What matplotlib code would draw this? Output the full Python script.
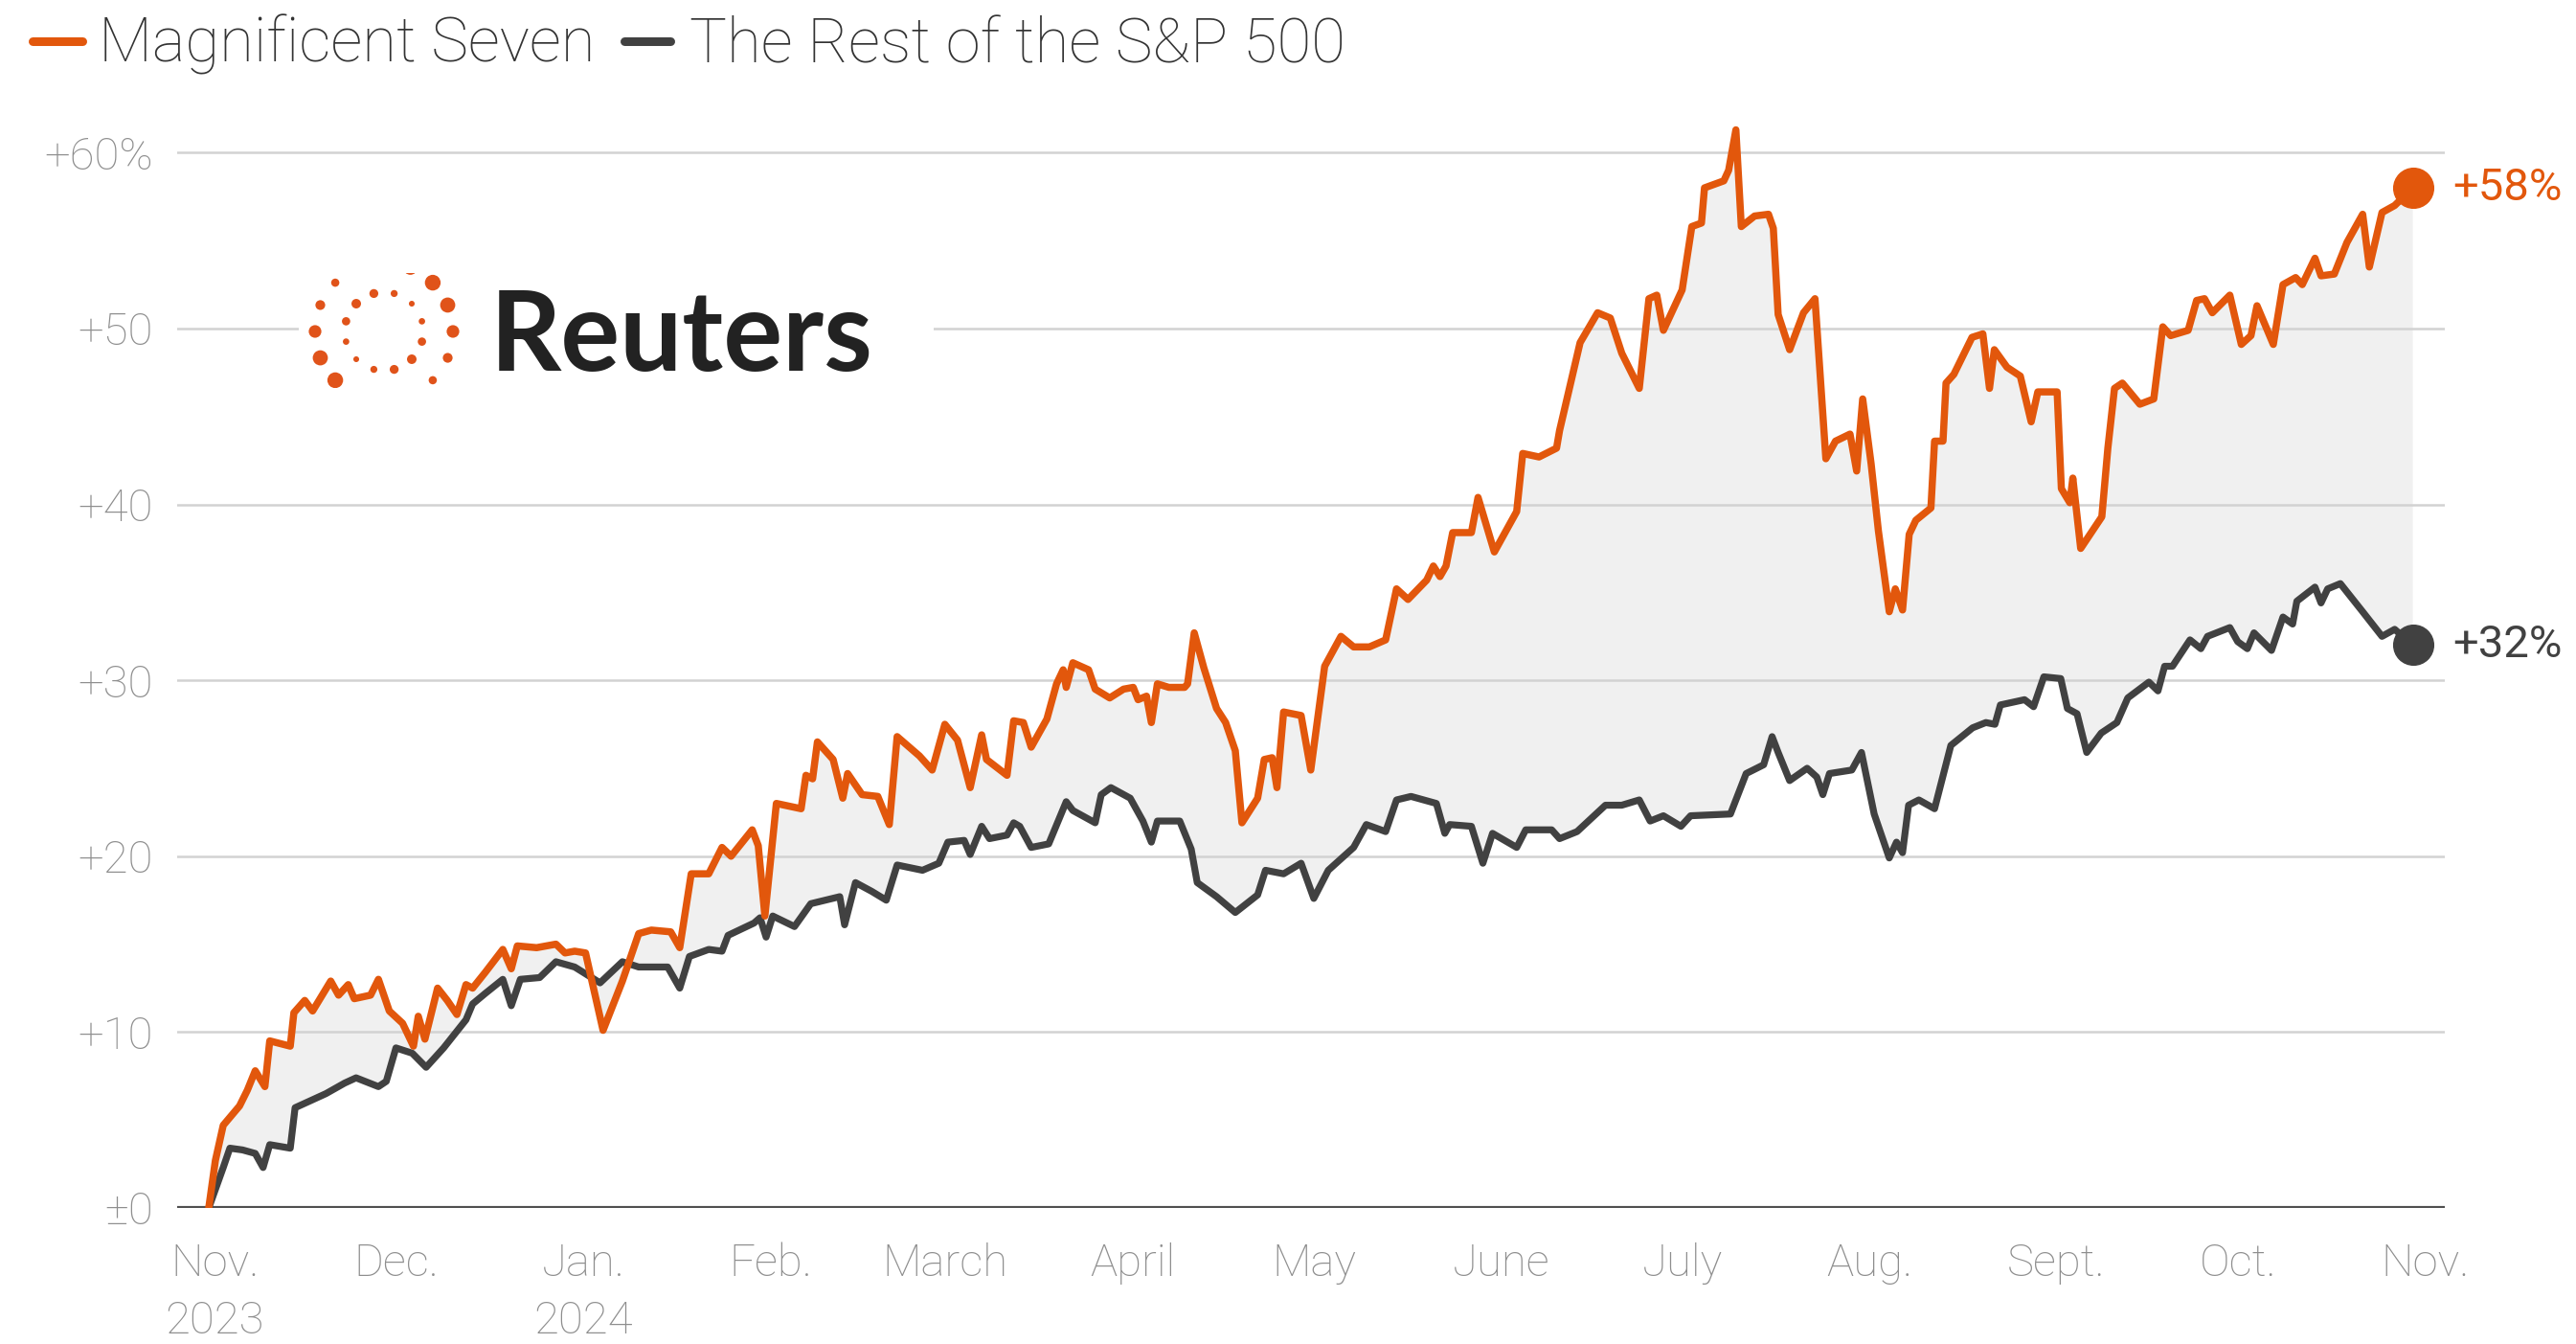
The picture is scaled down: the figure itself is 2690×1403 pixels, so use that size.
import matplotlib
matplotlib.use("Agg")
import matplotlib.pyplot as plt
import matplotlib.dates as mdates
from matplotlib.lines import Line2D
import numpy as np
import pandas as pd

plt.rcParams['font.family'] = ['Roboto', 'DejaVu Sans']
plt.rcParams['font.weight'] = 'light'

# ---------------- data ----------------
START = pd.Timestamp('2023-10-31')   # day 0 of the index (±0)

series_names = ['Magnificent Seven', 'The Rest of the S&P 500']

# days after START
mag7_days = [0, 1.1, 2.4, 5.1, 6.4, 7.7, 9.3, 10.1, 13.5, 14.1,
             15.9, 17.2, 20.2, 21.5, 23.1, 24.1, 26.8, 28.1, 29.9, 32.1,
             33.9, 34.7, 35.8, 37.9, 39.5, 41.1, 42.6, 43.7, 45.8, 48.7,
             50.1, 51.1, 54.3, 57.5, 59.0, 60.6, 62.4, 65.3, 68.5, 71.2,
             73.3, 76.5, 78.0, 79.9, 82.8, 85.0, 86.5, 90.0, 91.0, 92.1,
             94.0, 98.1, 98.9, 100.0, 100.8, 103.4, 105.0, 105.8, 108.2, 110.8,
             112.7, 114.0, 117.7, 119.8, 121.9, 124.0, 126.1, 128.0, 128.8, 132.2,
             133.3, 134.9, 136.2, 138.8, 140.4, 141.5, 142.0, 143.1, 145.7, 146.8,
             149.2, 151.5, 153.1, 153.9, 155.3, 156.1, 157.1, 159.0, 161.6, 162.1,
             163.2, 164.8, 166.9, 168.4, 170.0, 171.1, 173.7, 174.8, 176.1, 176.9,
             178.0, 180.9, 182.5, 184.8, 187.5, 189.6, 192.2, 194.9, 196.7, 198.6,
             201.7, 202.8, 203.9, 204.9, 206.0, 209.1, 210.2, 212.9, 216.6, 217.6,
             220.3, 223.2, 223.7, 227.1, 230.0, 232.1, 234.0, 236.9, 238.5, 239.8,
             240.9, 244.0, 245.6, 247.2, 247.7, 250.9, 251.7, 252.9, 253.8, 256.0,
             258.3, 259.1, 259.9, 261.8, 264.1, 266.0, 267.8, 269.4, 271.8, 272.9,
             273.9, 275.3, 276.5, 278.3, 279.3, 280.5, 281.6, 282.7, 285.2, 285.8,
             287.2, 287.7, 289.0, 292.0, 293.8, 294.9, 295.7, 297.8, 300.0, 301.8,
             302.9, 306.1, 306.8, 308.2, 308.7, 310.0, 313.5, 314.5, 315.6, 316.9,
             319.8, 322.1, 323.6, 324.9, 327.8, 329.2, 330.5, 331.8, 334.7, 336.6,
             338.2, 339.2, 341.9, 343.5, 345.6, 346.7, 348.8, 349.8, 352.0, 354.1,
             356.7, 357.8, 359.9, 362.0, 365.0]
mag7_vals = [0.0, 2.7, 4.7, 5.8, 6.7, 7.8, 6.9, 9.5, 9.2, 11.1,
             11.8, 11.2, 12.9, 12.1, 12.7, 11.9, 12.1, 13.0, 11.2, 10.5,
             9.2, 10.9, 9.6, 12.5, 11.8, 11.0, 12.7, 12.5, 13.4, 14.7,
             13.6, 14.9, 14.8, 15.0, 14.5, 14.6, 14.5, 10.1, 12.9, 15.6,
             15.8, 15.7, 14.8, 19.0, 19.0, 20.5, 20.0, 21.5, 20.6, 16.6,
             23.0, 22.7, 24.6, 24.4, 26.5, 25.5, 23.3, 24.7, 23.5, 23.4,
             21.8, 26.8, 25.7, 24.9, 27.5, 26.6, 23.9, 26.9, 25.5, 24.6,
             27.7, 27.6, 26.2, 27.8, 29.8, 30.6, 29.6, 31.0, 30.6, 29.5,
             29.0, 29.5, 29.6, 28.9, 29.1, 27.6, 29.8, 29.6, 29.6, 29.8,
             32.7, 30.7, 28.4, 27.6, 26.0, 21.9, 23.3, 25.5, 25.6, 23.9,
             28.2, 28.0, 24.9, 30.8, 32.5, 31.9, 31.9, 32.3, 35.2, 34.6,
             35.7, 36.5, 35.9, 36.5, 38.4, 38.4, 40.4, 37.3, 39.6, 42.9,
             42.7, 43.2, 44.2, 49.2, 50.9, 50.6, 48.6, 46.6, 51.7, 51.9,
             49.9, 52.2, 55.8, 56.0, 58.0, 58.4, 59.0, 61.3, 55.8, 56.4,
             56.5, 55.7, 50.8, 48.8, 50.9, 51.7, 42.6, 43.6, 44.0, 41.9,
             46.0, 42.3, 38.5, 33.9, 35.2, 34.0, 38.3, 39.1, 39.8, 43.6,
             43.6, 46.9, 47.4, 49.5, 49.7, 46.6, 48.8, 47.8, 47.3, 44.7,
             46.4, 46.4, 40.9, 40.1, 41.5, 37.5, 39.3, 43.2, 46.6, 46.9,
             45.7, 46.0, 50.1, 49.6, 49.9, 51.6, 51.7, 50.9, 51.9, 49.1,
             49.6, 51.3, 49.1, 52.5, 52.9, 52.5, 54.0, 53.0, 53.1, 54.9,
             56.5, 53.5, 56.6, 57.0, 58.0]

rest_days = [0, 2.4, 3.5, 5.6, 7.7, 9.0, 10.1, 13.5, 14.3, 16.2,
             19.4, 22.5, 24.4, 28.1, 29.4, 31.0, 33.7, 36.0, 38.9, 42.6,
             43.7, 45.8, 48.7, 50.1, 51.6, 54.8, 57.5, 60.6, 64.8, 68.5,
             71.2, 76.0, 78.0, 79.6, 82.8, 85.0, 86.0, 90.3, 91.3, 92.3,
             93.4, 97.0, 99.7, 104.5, 105.3, 107.1, 109.8, 112.2, 114.0, 118.2,
             120.9, 122.4, 125.1, 126.1, 128.0, 129.3, 132.2, 133.3, 134.3, 136.2,
             139.1, 142.0, 143.1, 146.8, 147.8, 149.4, 152.6, 154.7, 156.1, 157.1,
             160.8, 162.7, 163.7, 166.9, 170.0, 173.7, 175.0, 178.0, 180.9, 183.0,
             185.4, 189.6, 191.7, 194.9, 196.7, 199.1, 203.3, 204.7, 205.5, 209.1,
             211.0, 212.6, 216.6, 218.1, 222.4, 223.7, 226.6, 231.3, 234.0, 236.9,
             238.7, 240.9, 243.8, 245.4, 252.0, 254.6, 257.5, 258.9, 259.9, 261.8,
             264.7, 266.3, 267.3, 268.4, 272.1, 273.7, 275.8, 278.3, 279.5, 280.5,
             281.5, 283.2, 285.8, 288.5, 292.1, 294.3, 295.8, 296.7, 300.7, 302.2,
             303.9, 306.7, 307.8, 309.4, 311.0, 313.4, 316.0, 317.8, 321.3, 322.8,
             323.9, 325.2, 328.1, 329.9, 331.0, 334.7, 336.0, 337.6, 338.7, 341.6,
             343.5, 345.1, 345.8, 348.8, 349.8, 350.9, 353.0, 356.7, 359.9, 362.0,
             365.0]
rest_vals = [0.0, 2.3, 3.4, 3.3, 3.1, 2.3, 3.6, 3.4, 5.7, 6.0,
             6.5, 7.1, 7.4, 6.9, 7.2, 9.1, 8.8, 8.0, 9.1, 10.7,
             11.6, 12.2, 13.0, 11.5, 13.0, 13.1, 14.0, 13.7, 12.8, 14.0,
             13.7, 13.7, 12.5, 14.3, 14.7, 14.6, 15.5, 16.2, 16.5, 15.4,
             16.6, 16.0, 17.3, 17.7, 16.1, 18.5, 18.0, 17.5, 19.5, 19.2,
             19.6, 20.8, 20.9, 20.1, 21.7, 21.0, 21.2, 21.9, 21.7, 20.5,
             20.7, 23.1, 22.6, 21.9, 23.5, 23.9, 23.3, 22.0, 20.8, 22.0,
             22.0, 20.4, 18.5, 17.7, 16.8, 17.8, 19.2, 19.0, 19.6, 17.6,
             19.2, 20.5, 21.8, 21.4, 23.2, 23.4, 23.0, 21.3, 21.8, 21.7,
             19.6, 21.3, 20.5, 21.5, 21.5, 21.0, 21.4, 22.9, 22.9, 23.2,
             22.0, 22.3, 21.7, 22.3, 22.4, 24.7, 25.2, 26.8, 25.9, 24.3,
             25.0, 24.5, 23.5, 24.7, 24.9, 25.9, 22.4, 19.9, 20.8, 20.2,
             22.9, 23.2, 22.7, 26.3, 27.3, 27.6, 27.5, 28.6, 28.9, 28.5,
             30.2, 30.1, 28.4, 28.1, 25.9, 27.0, 27.6, 29.0, 29.9, 29.4,
             30.8, 30.8, 32.3, 31.8, 32.5, 33.0, 32.2, 31.8, 32.7, 31.7,
             33.6, 33.2, 34.5, 35.3, 34.4, 35.2, 35.5, 33.9, 32.5, 32.9,
             32.0]

month_ticks = ['2023-11-01', '2023-12-01', '2024-01-01', '2024-02-01', '2024-03-01',
               '2024-04-01', '2024-05-01', '2024-06-01', '2024-07-01', '2024-08-01',
               '2024-09-01', '2024-10-01', '2024-11-01']
month_labels = ['Nov.\n2023', 'Dec.', 'Jan.\n2024', 'Feb.', 'March', 'April', 'May',
                'June', 'July', 'Aug.', 'Sept.', 'Oct.', 'Nov.']
y_ticks = [0, 10, 20, 30, 40, 50, 60]
y_labels = ['±0', '+10', '+20', '+30', '+40', '+50', '+60%']
end_labels = ['+58%', '+32%']

# ---------------- style ----------------
ORANGE = '#e2570c'
DARK = '#414141'
GRID = '#d2d2d2'
FILL = '#f0f0f0'
TICK = '#8e8e8e'
W, H = 2690, 1403
PX = 18.36  # pixels per percentage point

fig = plt.figure(figsize=(W / 100, H / 100), dpi=100)
fig.patch.set_facecolor('white')
ax = fig.add_axes([185 / W, (H - 1261) / H, (2553 - 185) / W, 63 * PX / H])

m7_dates = START + pd.to_timedelta(np.array(mag7_days), unit='D')
rs_dates = START + pd.to_timedelta(np.array(rest_days), unit='D')
m7_x = mdates.date2num(m7_dates)
rs_x = mdates.date2num(rs_dates)

# shaded gap between the two series
poly_x = np.concatenate([m7_x, rs_x[::-1]])
poly_y = np.concatenate([np.array(mag7_vals), np.array(rest_vals)[::-1]])
ax.fill(poly_x, poly_y, color=FILL, lw=0, zorder=1)

for yv in y_ticks[1:]:
    ax.axhline(yv, color=GRID, lw=1.8, zorder=2)
ax.axhline(0, color='#505050', lw=3.0, zorder=2.5)

ax.plot(m7_x, mag7_vals, color=ORANGE, lw=5.4, solid_joinstyle='round',
        solid_capstyle='round', zorder=4)
ax.plot(rs_x, rest_vals, color=DARK, lw=5.2, solid_joinstyle='round',
        solid_capstyle='round', zorder=3)

ax.plot([m7_x[-1]], [mag7_vals[-1]], 'o', ms=30, color=ORANGE, zorder=5)
ax.plot([rs_x[-1]], [rest_vals[-1]], 'o', ms=30, color=DARK, zorder=5)
ax.annotate(end_labels[0], (m7_x[-1], mag7_vals[-1]), xytext=(30, 0),
            textcoords='offset points', va='center', ha='left', fontsize=34,
            color=ORANGE, fontweight='normal')
ax.annotate(end_labels[1], (rs_x[-1], rest_vals[-1]), xytext=(30, 0),
            textcoords='offset points', va='center', ha='left', fontsize=34,
            color=DARK, fontweight='normal')

x0 = mdates.date2num(START)
ax.set_xlim(x0 - 5.23, x0 + 370.3)
ax.set_ylim(0, 63)
ax.set_yticks(y_ticks)
ax.set_yticklabels(y_labels)
ax.set_xticks(mdates.date2num(pd.to_datetime(month_ticks)))
ax.set_xticklabels(month_labels, linespacing=1.45)
ax.tick_params(axis='y', length=0, pad=18, labelsize=34, labelcolor=TICK)
ax.tick_params(axis='x', length=0, pad=26, labelsize=34, labelcolor=TICK)
for sp in ax.spines.values():
    sp.set_visible(False)
ax.set_facecolor('none')

# ---------------- legend ----------------
fig.add_artist(Line2D([34 / W, 86 / W], [1 - 43 / H] * 2, transform=fig.transFigure,
                      color=ORANGE, lw=6.5, solid_capstyle='round'))
fig.text(103 / W, 1 - 65 / H, series_names[0], fontsize=47, color='#333333',
         va='baseline', ha='left')
fig.add_artist(Line2D([652 / W, 700 / W], [1 - 43 / H] * 2, transform=fig.transFigure,
                      color=DARK, lw=6.5, solid_capstyle='round'))
fig.text(720 / W, 1 - 65 / H, series_names[1], fontsize=47, color='#333333',
         va='baseline', ha='left')

# ---------------- Reuters logo ----------------
lx0, lx1, ly0, ly1 = 312, 975, 285, 405
lax = fig.add_axes([lx0 / W, (H - ly1) / H, (lx1 - lx0) / W, (ly1 - ly0) / H])
lax.set_xlim(lx0, lx1)
lax.set_ylim(ly1, ly0)
lax.set_facecolor('white')
for sp in lax.spines.values():
    sp.set_visible(False)
lax.set_xticks([])
lax.set_yticks([])
cx, cy = 401, 346
ang_o = np.deg2rad(90 - np.arange(16) * 22.5)
d_o = 12.5 + 4.0 * np.cos(2 * (ang_o - np.deg2rad(40)))
lax.scatter(cx + 72 * np.cos(ang_o), cy - 72 * np.sin(ang_o), s=(0.72 * d_o) ** 2,
            color='#e0531a', lw=0)
ang_i = np.deg2rad(75 - np.arange(12) * 30)
d_i = 8.0 + 2.0 * np.cos(2 * (ang_i - np.deg2rad(130)))
lax.scatter(cx + 41 * np.cos(ang_i), cy - 41 * np.sin(ang_i), s=(0.72 * d_i) ** 2,
            color='#e0531a', lw=0)
t = lax.text(512, 387, 'Reuters', fontsize=80, fontweight='bold', color='#222222',
             va='baseline', ha='left', family=['Lato', 'DejaVu Sans'])
fig.canvas.draw()
bb = t.get_window_extent()
t.set_fontsize(80 * 400 / bb.width)

fig.savefig('out.png', dpi=100, facecolor='white')
